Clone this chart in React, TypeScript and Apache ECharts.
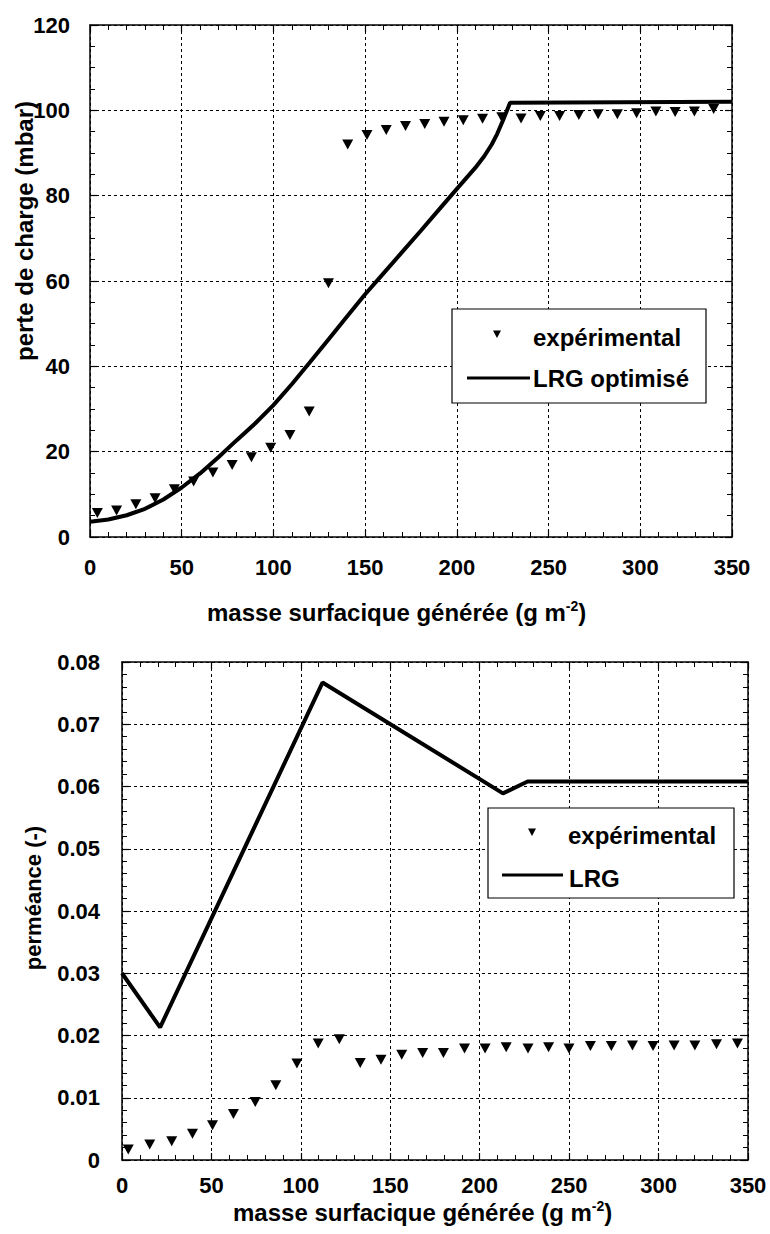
import React, { useEffect, useRef } from "react";
import * as echarts from "echarts";

// ---- Top chart: pressure drop ----
const topExpX = [4, 14.5, 25, 35.5, 46, 56.5, 67, 77.5, 88, 98.5, 109, 119.5, 130, 140.5, 151, 161.5, 172, 182.5, 193, 203.5, 214, 224.5, 235, 245.5, 256, 266.5, 277, 287.5, 298, 308.5, 319, 329.5, 340];
const topExpY = [5.6, 6.2, 7.7, 9.1, 11.2, 13, 15.1, 16.9, 18.7, 20.9, 23.9, 29.4, 59.5, 92, 94.2, 95.4, 96.3, 96.8, 97.3, 97.7, 98, 98.4, 98.1, 98.7, 98.7, 98.9, 99.1, 99.1, 99.3, 99.7, 99.6, 99.7, 100.3];
const topLrgX = [0, 10, 20, 30, 40, 50, 60, 70, 80, 90, 100, 110, 120, 130, 140, 150, 160, 170, 180, 190, 200, 210, 215, 219, 222, 225, 227, 229, 350];
const topLrgY = [3.6, 4.1, 5.1, 6.6, 8.8, 11.6, 14.9, 18.7, 22.7, 26.6, 30.9, 35.8, 41.0, 46.3, 51.6, 56.9, 61.8, 66.7, 71.6, 76.6, 81.6, 86.5, 89.3, 92.0, 94.5, 97.5, 99.6, 101.8, 102];

// ---- Bottom chart: permeance ----
const botExpX = [3.5, 15.5, 27.8, 39.4, 50.6, 62.3, 74.5, 86, 97.8, 109.7, 121.5, 133.2, 144.8, 156.4, 168.1, 179.7, 191.5, 203, 214.8, 227, 238.5, 249.9, 261.9, 273.6, 285.4, 296.9, 308.7, 320.3, 332.4, 344.1];
const botExpY = [0.0017, 0.0025, 0.003, 0.0042, 0.0056, 0.0074, 0.0093, 0.012, 0.0155, 0.0187, 0.0194, 0.0156, 0.0161, 0.0169, 0.0172, 0.0172, 0.0179, 0.0179, 0.0181, 0.0179, 0.0181, 0.0179, 0.0183, 0.0183, 0.0184, 0.0183, 0.0184, 0.0184, 0.0186, 0.0187];
const botLrgX = [0, 21.3, 112.1, 213, 226.8, 350];
const botLrgY = [0.030, 0.0213, 0.0767, 0.0589, 0.0608, 0.0608];

const xTitle = "masse surfacique générée (g m";
const xTitleSup = "-2";
const topYTitle = "perte de charge (mbar)";
const botYTitle = "perméance (-)";
const legendExp = "expérimental";
const legendTopLine = "LRG optimisé";
const legendBotLine = "LRG";

const FONT = '"Liberation Sans", Arial, Helvetica, sans-serif';
const BLACK = "#000";

const zip = (xs: number[], ys: number[]) => xs.map((x, i) => [x, ys[i]]);

function axisCommon(minorSplit: number) {
  return {
    axisLine: { show: true, onZero: false, lineStyle: { color: BLACK, width: 1.5 } },
    axisTick: { show: true, inside: true, length: 7, lineStyle: { color: BLACK, width: 1.2 } },
    minorTick: { show: true, splitNumber: minorSplit, length: 5, lineStyle: { color: BLACK, width: 1 } },
    minorSplitLine: { show: false },
  };
}

function xMain(gridIndex: number, margin: number) {
  return {
    type: "value", gridIndex, min: 0, max: 350, interval: 50, position: "bottom",
    ...axisCommon(5),
    axisLabel: { show: true, margin, color: BLACK, fontSize: 22, fontWeight: "bold", fontFamily: FONT },
    splitLine: { show: true, lineStyle: { color: BLACK, width: 1, type: [3, 3] } },
  };
}
function xMirror(gridIndex: number) {
  return {
    type: "value", gridIndex, min: 0, max: 350, interval: 50, position: "top",
    ...axisCommon(5),
    axisLabel: { show: false },
    splitLine: { show: false },
  };
}
function yMain(gridIndex: number, max: number, interval: number, minorSplit: number, margin: number, fmt: (v: number) => string) {
  return {
    type: "value", gridIndex, min: 0, max, interval, position: "left",
    ...axisCommon(minorSplit),
    axisLabel: { show: true, margin, color: BLACK, fontSize: 22, fontWeight: "bold", fontFamily: FONT, formatter: fmt },
    splitLine: { show: true, lineStyle: { color: BLACK, width: 1, type: [3, 3] } },
  };
}
function yMirror(gridIndex: number, max: number, interval: number, minorSplit: number) {
  return {
    type: "value", gridIndex, min: 0, max, interval, position: "right",
    ...axisCommon(minorSplit),
    axisLabel: { show: false },
    splitLine: { show: false },
  };
}

function txt(text: string, x: number, y: number, size: number, align = "left", rotation = 0) {
  return {
    type: "text", x, y, rotation, z: 100,
    style: {
      text, x: 0, y: 0, fill: BLACK,
      font: `bold ${size}px ${FONT}`,
      align, verticalAlign: "middle", textAlign: align, textVerticalAlign: "middle",
    },
  };
}

function xTitleGraphic(x: number, y: number) {
  return {
    type: "text", x, y, z: 100,
    style: {
      text: `{a|${xTitle}}{s|${xTitleSup}}{a|)}`,
      x: 0, y: 0,
      align: "left", verticalAlign: "middle", textAlign: "left", textVerticalAlign: "middle",
      rich: {
        a: { fontSize: 24, fontWeight: "bold", fontFamily: FONT, fill: BLACK, lineHeight: 26 },
        s: { fontSize: 14, fontWeight: "bold", fontFamily: FONT, fill: BLACK, verticalAlign: "top", lineHeight: 14 },
      },
    },
  };
}

function legendGraphic(box: number[], triX: number, triY: number, t1x: number, t1y: number, lx1: number, lx2: number, ly: number, t2x: number, t2y: number, label2: string) {
  const [bx, by, bw, bh] = box;
  return [
    { type: "rect", z: 90, shape: { x: bx, y: by, width: bw, height: bh }, style: { fill: "#fff", stroke: BLACK, lineWidth: 1.2 } },
    { type: "polygon", z: 95, shape: { points: [[triX - 4, triY - 3.5], [triX + 4, triY - 3.5], [triX, triY + 4]] }, style: { fill: BLACK } },
    txt(legendExp, t1x, t1y, 24),
    { type: "line", z: 95, shape: { x1: lx1, y1: ly, x2: lx2, y2: ly }, style: { stroke: BLACK, lineWidth: 3 } },
    txt(label2, t2x, t2y, 24),
  ];
}

export default function App() {
  const ref = useRef<HTMLDivElement>(null);
  useEffect(() => {
    if (!ref.current) return;
    const chart = echarts.init(ref.current, undefined, { renderer: "svg" });
    const option = {
      animation: false,
      backgroundColor: "#fff",
      grid: [
        { left: 90, top: 25, width: 642, height: 512 },
        { left: 122, top: 662, width: 626, height: 498 },
      ],
      xAxis: [xMain(0, 19), xMirror(0), xMain(1, 14), xMirror(1)],
      yAxis: [
        yMain(0, 120, 20, 4, 20, (v: number) => String(v)),
        yMirror(0, 120, 20, 4),
        yMain(1, 0.08, 0.01, 5, 22, (v: number) => (v === 0 ? "0" : v.toFixed(2))),
        yMirror(1, 0.08, 0.01, 5),
      ],
      series: [
        {
          name: legendExp, type: "scatter", xAxisIndex: 0, yAxisIndex: 0,
          symbol: "triangle", symbolRotate: 180, symbolSize: [11, 10],
          itemStyle: { color: BLACK, opacity: 1 }, data: zip(topExpX, topExpY), z: 5,
        },
        {
          name: legendTopLine, type: "line", xAxisIndex: 0, yAxisIndex: 0,
          showSymbol: false, symbol: "none", lineStyle: { color: BLACK, width: 4 },
          data: zip(topLrgX, topLrgY), z: 4,
        },
        {
          name: legendExp + " ", type: "scatter", xAxisIndex: 2, yAxisIndex: 2,
          symbol: "triangle", symbolRotate: 180, symbolSize: [11, 10],
          itemStyle: { color: BLACK, opacity: 1 }, data: zip(botExpX, botExpY), z: 5,
        },
        {
          name: legendBotLine, type: "line", xAxisIndex: 2, yAxisIndex: 2,
          showSymbol: false, symbol: "none", lineStyle: { color: BLACK, width: 4 },
          data: zip(botLrgX, botLrgY), z: 4,
        },
      ],
      graphic: [
        xTitleGraphic(207, 612),
        xTitleGraphic(233, 1212),
        txt(topYTitle, 24, 231, 24, "center", Math.PI / 2),
        txt(botYTitle, 33, 898, 22, "center", Math.PI / 2),
        ...legendGraphic([452, 309, 254, 94], 497, 334, 533, 337, 467, 530, 378, 533, 378, legendTopLine),
        ...legendGraphic([488, 808, 246, 90], 532, 832, 568, 835, 502, 563, 875, 569, 878, legendBotLine),
      ],
    };
    chart.setOption(option as any);
    return () => chart.dispose();
  }, []);
  return <div ref={ref} style={{ position: "absolute", left: 0, top: 0, width: 770, height: 1234 }} />;
}
